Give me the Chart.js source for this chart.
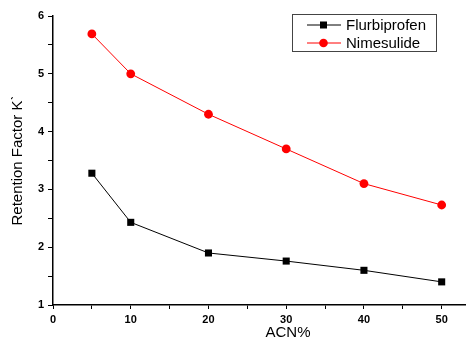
<!DOCTYPE html>
<html>
<head>
<meta charset="utf-8">
<script src="https://cdn.jsdelivr.net/npm/chart.js@4/dist/chart.umd.min.js"></script>
<style>
  html, body { margin: 0; padding: 0; background: #fff; }
  #wrap { width: 470px; height: 345px; position: relative; }
</style>
</head>
<body>
<div id="wrap"><canvas id="chart" width="470" height="345"></canvas></div>
<script>
// data
const acn = [5, 10, 20, 30, 40, 50];
const flurbiprofen = [3.28, 2.43, 1.9, 1.76, 1.6, 1.4];
const nimesulide = [5.69, 5.0, 4.3, 3.7, 3.1, 2.73];
const xLabels = [0, 10, 20, 30, 40, 50];
const yLabels = [1, 2, 3, 4, 5, 6];

const toPoints = (vals) => acn.map((x, i) => ({ x: x, y: vals[i] }));

// legend box + axis titles drawn by hand
const extras = {
  id: "extras",
  afterDraw(chart) {
    const ctx = chart.ctx;
    const area = chart.chartArea;
    ctx.save();

    // legend
    const bx = 292, by = 14, bw = 144, bh = 37;
    ctx.strokeStyle = "#444";
    ctx.lineWidth = 1;
    ctx.strokeRect(bx + 0.5, by + 0.5, bw, bh);
    chart.data.datasets.forEach((ds, i) => {
      const ly = by + 11 + i * 18;
      ctx.strokeStyle = ds.borderColor;
      ctx.beginPath();
      ctx.moveTo(bx + 15, ly);
      ctx.lineTo(bx + 49, ly);
      ctx.stroke();
      ctx.fillStyle = ds.backgroundColor;
      if (ds.pointStyle === "rect") {
        ctx.fillRect(bx + 28, ly - 3.5, 7, 7);
      } else {
        ctx.beginPath();
        ctx.arc(bx + 31.5, ly, 4.3, 0, Math.PI * 2);
        ctx.fill();
      }
      ctx.fillStyle = "#000";
      ctx.font = "15px 'Liberation Sans', Arial, sans-serif";
      ctx.textAlign = "left";
      ctx.textBaseline = "middle";
      ctx.fillText(ds.label, bx + 54, ly + 1);
    });

    // x title
    ctx.fillStyle = "#000";
    ctx.font = "15px 'Liberation Sans', Arial, sans-serif";
    ctx.textAlign = "center";
    ctx.textBaseline = "middle";
    ctx.fillText("ACN%", 288, 333);

    // y title
    ctx.translate(18, (area.top + area.bottom) / 2);
    ctx.rotate(-Math.PI / 2);
    ctx.fillText("Retention Factor K\u02CB", 0, 0);
    ctx.restore();
  }
};

new Chart(document.getElementById("chart").getContext("2d"), {
  type: "scatter",
  data: {
    datasets: [
      {
        label: "Flurbiprofen",
        data: toPoints(flurbiprofen),
        showLine: true,
        borderColor: "#000",
        backgroundColor: "#000",
        borderWidth: 1,
        pointStyle: "rect",
        pointRadius: 5,
        pointBorderWidth: 0,
      },
      {
        label: "Nimesulide",
        data: toPoints(nimesulide),
        showLine: true,
        borderColor: "#ff0000",
        backgroundColor: "#ff0000",
        borderWidth: 1,
        pointStyle: "circle",
        pointRadius: 4.4,
        pointBorderWidth: 0,
      },
    ],
  },
  options: {
    responsive: false,
    animation: false,
    layout: { padding: { top: 16, right: 0, left: 0, bottom: 0 } },
    plugins: {
      legend: { display: false },
      tooltip: { enabled: false },
    },
    scales: {
      x: {
        type: "linear",
        min: 0,
        max: 53,
        afterBuildTicks: (scale) => {
          scale.ticks = [];
          for (let v = 0; v <= 50; v += 5) scale.ticks.push({ value: v });
        },
        afterFit: (scale) => { scale.height = 40; },
        ticks: {
          color: "#000",
          font: { family: "'Liberation Sans', Arial, sans-serif", size: 11, weight: "bold" },
          padding: 4,
          maxRotation: 0,
          callback: (v) => (xLabels.includes(v) ? String(v) : ""),
        },
        grid: { display: true, drawOnChartArea: false, drawTicks: true, tickLength: 4, color: "#000" },
        border: { display: true, color: "#000", width: 1.5 },
      },
      y: {
        min: 1,
        max: 6,
        afterBuildTicks: (scale) => {
          scale.ticks = [];
          for (let v = 1; v <= 6.001; v += 0.5) scale.ticks.push({ value: v });
        },
        afterFit: (scale) => { scale.width = 53; },
        ticks: {
          color: "#000",
          font: { family: "'Liberation Sans', Arial, sans-serif", size: 11, weight: "bold" },
          padding: 4,
          callback: (v) => (yLabels.includes(v) ? String(v) : ""),
        },
        grid: { display: true, drawOnChartArea: false, drawTicks: true, tickLength: 5, color: "#000" },
        border: { display: true, color: "#000", width: 1.5 },
      },
    },
  },
  plugins: [extras],
});
</script>
</body>
</html>
